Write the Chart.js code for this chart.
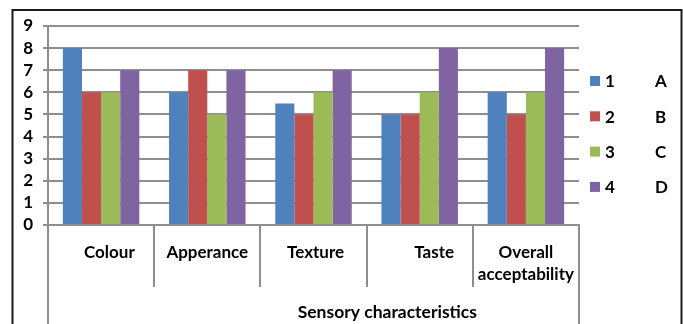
<!DOCTYPE html>
<html>
<head>
<meta charset="utf-8">
<script src="https://cdn.jsdelivr.net/npm/chart.js@4"></script>
<style>
  html, body { margin: 0; padding: 0; background: #ffffff; }
  #wrap { width: 683px; height: 324px; position: relative; }
</style>
</head>
<body>
<div id="wrap"><canvas id="chart" width="683" height="324"></canvas></div>
<script>
// Sensory scores per attribute, one series per sample
const categories = ['    Colour', 'Apperance', ' Texture', '       Taste', ['Overall', 'acceptability']];
const seriesNumbers = ['1', '2', '3', '4'];
const seriesLetters = ['A', 'B', 'C', 'D'];
const sampleA = [8, 6, 5.5, 5, 6];
const sampleB = [6, 7, 5, 5, 5];
const sampleC = [6, 5, 6, 6, 6];
const sampleD = [7, 7, 7, 8, 8];
const yTicks = [0, 1, 2, 3, 4, 5, 6, 7, 8, 9];
const axisTitle = 'Sensory characteristics';

const colors = ['#4F81BD', '#C0504D', '#9BBB59', '#8064A2'];
const FONT = 'Lato, "Liberation Sans", sans-serif';
const GRID = '#8e8e8e';

// Frame, category dividers, axis title and the side legend
const decorations = {
  id: 'decorations',
  afterDraw(chart) {
    const ctx = chart.ctx;
    const x = chart.scales.x;
    const area = chart.chartArea;
    const n = categories.length;
    const step = (area.right - area.left) / n;
    ctx.save();
    ctx.strokeStyle = GRID;
    ctx.lineWidth = 2;
    for (let i = 0; i <= n; i++) {
      const px = Math.round(x.getPixelForValue(i) - step / 2);
      const end = (i === 0 || i === n) ? chart.height : area.bottom + 62;
      ctx.beginPath();
      ctx.moveTo(px, area.bottom);
      ctx.lineTo(px, end);
      ctx.stroke();
    }
    ctx.fillStyle = '#000000';
    ctx.font = 'bold 17.5px ' + FONT;
    ctx.textBaseline = 'middle';
    ctx.textAlign = 'center';
    ctx.fillText(axisTitle, area.left + (area.right - area.left) * 0.639, 312);
    // legend
    ctx.font = 'bold 17px ' + FONT;
    ctx.textAlign = 'left';
    chart.data.datasets.forEach((ds, i) => {
      const cy = 81 + i * 35.3;
      ctx.fillStyle = ds.backgroundColor;
      ctx.fillRect(590, cy - 5, 10, 10);
      ctx.fillStyle = '#000000';
      ctx.fillText(seriesNumbers[i], 605, cy + 1);
      ctx.fillText(seriesLetters[i], 655, cy + 1);
    });
    // outer frame
    ctx.strokeStyle = '#1a1a1a';
    ctx.lineWidth = 2;
    ctx.strokeRect(12.5, 10, 669, 400);
    ctx.restore();
  }
};

new Chart(document.getElementById('chart'), {
  type: 'bar',
  data: {
    labels: categories,
    datasets: [sampleA, sampleB, sampleC, sampleD].map((vals, i) => ({
      label: seriesNumbers[i] + ' ' + seriesLetters[i],
      data: vals,
      backgroundColor: colors[i],
      borderWidth: 0,
      categoryPercentage: 0.72,
      barPercentage: 1.0
    }))
  },
  options: {
    responsive: false,
    animation: false,
    events: [],
    layout: { padding: { left: 0, top: 26, right: 104, bottom: 0 } },
    plugins: { legend: { display: false }, tooltip: { enabled: false } },
    scales: {
      y: {
        min: 0, max: 9,
        afterFit(s) { s.width = 48; },
        afterBuildTicks(s) { s.ticks = yTicks.map(v => ({ value: v })); },
        grid: { color: GRID, lineWidth: 2, tickLength: 5 },
        border: { color: GRID, width: 2 },
        ticks: { color: '#000', padding: 10, autoSkip: false,
                 font: { family: FONT, size: 17, weight: 'bold' } }
      },
      x: {
        afterFit(s) { s.height = 99; },
        grid: { display: false, drawTicks: false },
        border: { color: GRID, width: 2 },
        ticks: { color: '#000', padding: 16, maxRotation: 0, autoSkip: false,
                 font: { family: FONT, size: 17, weight: 'bold', lineHeight: 1.32 } }
      }
    }
  },
  plugins: [decorations]
});
</script>
</body>
</html>
